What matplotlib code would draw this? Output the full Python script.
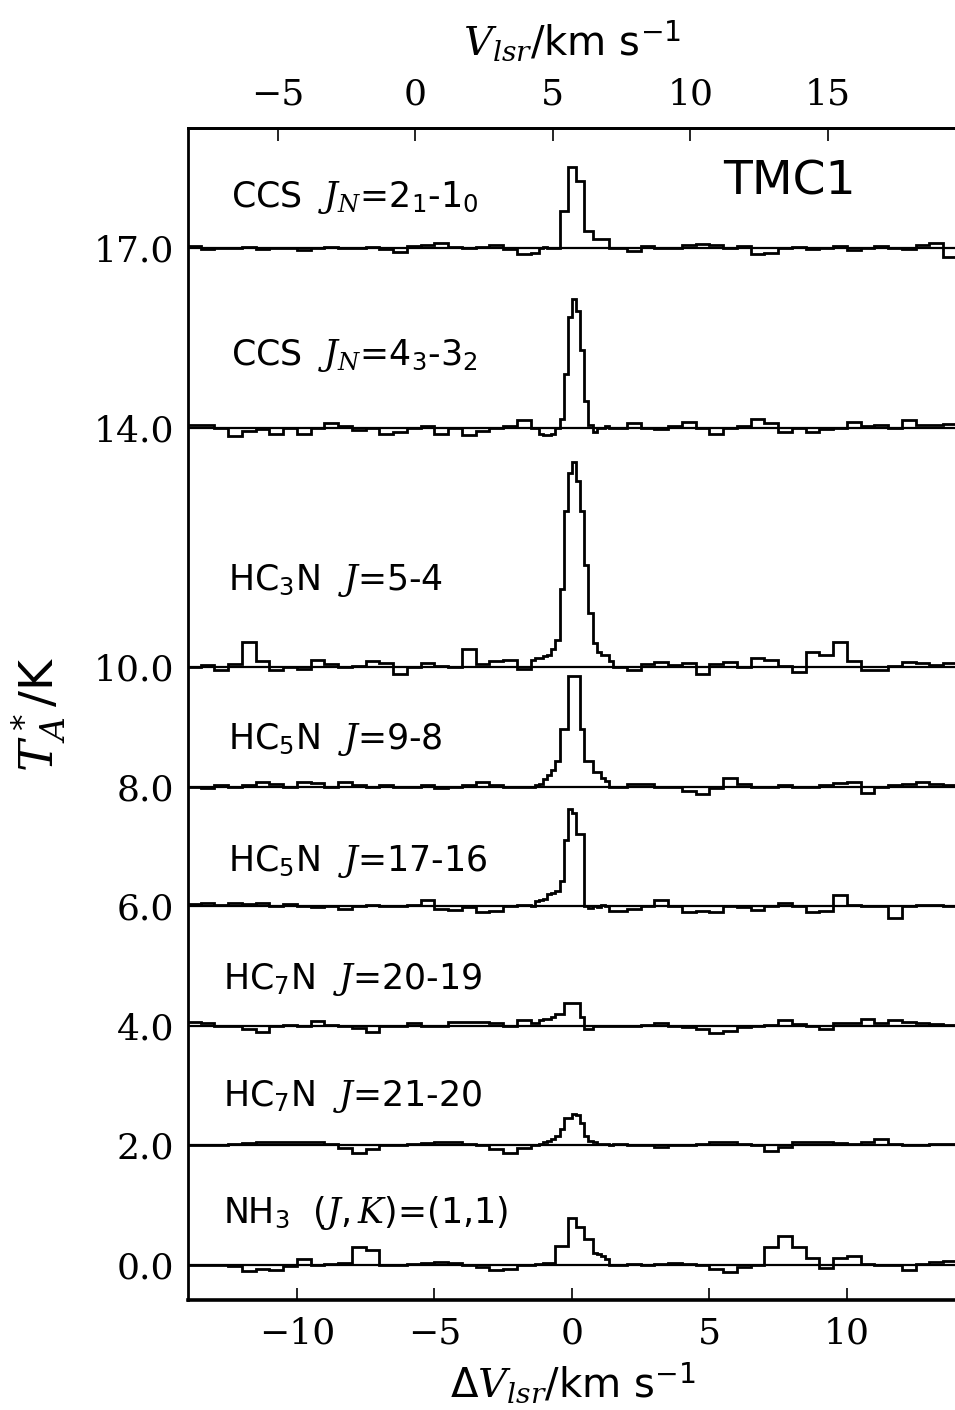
import matplotlib
matplotlib.use('Agg')
import matplotlib.pyplot as plt
from matplotlib.ticker import FormatStrFormatter
import numpy as np

plt.rcParams['font.family'] = ['DejaVu Sans']
plt.rcParams['mathtext.fontset'] = 'custom'
plt.rcParams['mathtext.rm'] = 'DejaVu Sans'
plt.rcParams['mathtext.it'] = 'DejaVu Serif:italic'

# channel left edges (km/s): coarse wings, fine grid around the line
edges_left = np.arange(-14.0, -1.5, 0.5)
edges_fine = np.arange(-1.5, 1.49, 0.15)
edges_right = np.arange(1.5, 13.99, 0.5)
V_END = 14.0
V_SYS = 5.7  # V_lsr of the cloud, top axis

offsets = [17, 14, 10, 8, 6, 4, 2, 0]
labels = [r'CCS  $J_N$=2$_1$-1$_0$', r'CCS  $J_N$=4$_3$-3$_2$', r'HC$_3$N  $J$=5-4',
          r'HC$_5$N  $J$=9-8', r'HC$_5$N  $J$=17-16', r'HC$_7$N  $J$=20-19',
          r'HC$_7$N  $J$=21-20', r'NH$_3$  ($J,K$)=(1,1)']
label_y = [17.84, 15.2, 11.45, 8.78, 6.74, 4.77, 2.81, 0.87]
label_x = [-12.4, -12.4, -12.5, -12.5, -12.5, -12.7, -12.7, -12.7]

# T_A* (K) per channel: left wing / line core / right wing
ccs21_l = [0.03, -0.02, 0.0, 0.01, 0.02, -0.01, 0.0, 0.01, -0.03, 0.0, 0.02, 0.01, 0.0,
           0.02, -0.02, -0.07, 0.03, 0.06, 0.08, 0.02, 0.0, 0.02, 0.05, -0.02, -0.09]
ccs21_c = [-0.08, -0.08, 0.0, 0.02, 0.0, 0.0, 0.0, 0.62, 0.62, 1.35,
           1.35, 1.12, 1.12, 0.28, 0.28, 0.16, 0.16, 0.16, 0.16, 0.0]
ccs21_r = [0.0, -0.05, 0.04, 0.0, 0.0, 0.06, 0.07, 0.05, 0.0, 0.04, -0.1, -0.08, 0.0,
           0.02, -0.02, 0.0, 0.03, -0.03, 0.0, 0.04, 0.0, -0.02, 0.06, 0.08, -0.15]

ccs43_l = [0.05, 0.04, 0.0, -0.14, -0.06, -0.02, -0.1, 0.0, -0.1, 0.0, 0.08, 0.02, -0.04,
           0.0, -0.1, -0.08, 0.0, 0.02, -0.1, 0.0, -0.12, -0.06, 0.0, 0.02, 0.12]
ccs43_c = [0.0, 0.0, -0.1, -0.12, -0.12, -0.1, 0.0, 0.15, 0.9, 1.85,
           2.15, 1.95, 1.3, 0.45, 0.05, -0.08, 0.0, 0.0, 0.02, 0.0]
ccs43_r = [0.0, 0.08, 0.0, -0.03, 0.02, 0.1, 0.0, -0.1, 0.0, 0.02, 0.15, 0.08, -0.08,
           0.0, -0.07, -0.03, 0.0, 0.1, 0.03, 0.04, 0.0, 0.12, 0.05, 0.04, 0.06]

hc3n_l = [0.0, 0.03, -0.06, 0.05, 0.42, 0.1, -0.05, 0.0, -0.04, 0.12, 0.05, 0.0, 0.02,
          0.1, 0.06, -0.12, 0.0, 0.07, 0.02, 0.0, 0.3, 0.05, 0.1, 0.12, -0.04]
hc3n_c = [0.12, 0.15, 0.15, 0.18, 0.2, 0.3, 0.45, 1.3, 2.6, 3.25,
          3.43, 3.1, 2.6, 1.7, 0.9, 0.4, 0.25, 0.2, 0.2, 0.1]
hc3n_r = [0.0, -0.06, 0.05, 0.08, 0.03, 0.06, -0.12, 0.05, 0.08, 0.0, 0.15, 0.12, 0.02,
          -0.08, 0.25, 0.2, 0.42, 0.1, -0.06, -0.05, 0.02, 0.08, 0.06, 0.03, 0.07]

hc5n98_l = [0.0, -0.02, 0.02, 0.0, 0.03, 0.08, 0.05, 0.0, 0.08, 0.06, 0.0, 0.07, 0.02,
            0.0, 0.03, -0.01, 0.0, 0.02, -0.02, 0.0, 0.02, 0.08, 0.02, 0.0, 0.0]
hc5n98_c = [0.0, 0.02, 0.05, 0.12, 0.2, 0.28, 0.42, 0.96, 0.96, 1.84,
            1.84, 1.84, 0.96, 0.42, 0.42, 0.25, 0.25, 0.14, 0.1, 0.0]
hc5n98_r = [0.0, 0.05, 0.04, 0.0, 0.0, -0.08, -0.12, -0.02, 0.15, 0.05, 0.0, 0.0, 0.02,
            0.0, 0.0, 0.02, 0.06, 0.07, -0.1, 0.0, 0.02, 0.05, 0.08, 0.04, 0.02]

hc5n1716_l = [0.03, 0.06, 0.02, 0.05, 0.03, 0.05, 0.0, 0.03, 0.0, -0.02, 0.0, -0.04, 0.0,
              0.02, 0.0, 0.0, 0.02, 0.1, -0.05, -0.06, -0.02, -0.1, -0.08, 0.0, 0.02]
hc5n1716_c = [0.0, 0.08, 0.1, 0.12, 0.2, 0.22, 0.25, 0.42, 1.1, 1.62,
              1.55, 1.2, 1.2, 0.0, -0.03, 0.0, -0.02, 0.02, 0.0, -0.08]
hc5n1716_r = [-0.08, -0.05, 0.0, 0.1, 0.0, -0.1, -0.08, -0.1, 0.0, -0.02, -0.07, 0.0, 0.06,
              0.0, -0.1, -0.08, 0.18, 0.02, 0.0, 0.0, -0.2, 0.0, 0.02, 0.02, 0.0]

hc7n2019_l = [0.06, 0.05, 0.0, 0.0, -0.05, -0.1, 0.0, 0.02, 0.0, 0.08, 0.02, 0.0, -0.03,
              -0.1, 0.0, 0.0, 0.05, 0.0, 0.0, 0.07, 0.07, 0.07, 0.05, 0.0, 0.1]
hc7n2019_c = [0.05, 0.05, 0.1, 0.12, 0.12, 0.15, 0.2, 0.2, 0.38, 0.38,
              0.38, 0.38, 0.15, -0.05, -0.05, 0.0, 0.0, 0.0, 0.0, 0.0]
hc7n2019_r = [0.0, 0.0, 0.02, 0.04, 0.0, -0.02, -0.06, -0.12, -0.08, -0.02, 0.0, 0.02, 0.1,
              0.03, 0.0, -0.06, 0.05, 0.05, 0.12, 0.05, 0.1, 0.06, 0.05, 0.03, 0.02]

hc7n2120_l = [0.0, 0.0, 0.0, 0.02, 0.04, 0.05, 0.05, 0.06, 0.05, 0.05, 0.02, -0.05, -0.12,
              -0.06, 0.0, 0.0, 0.02, 0.04, 0.06, 0.05, 0.02, 0.0, -0.06, -0.12, -0.05]
hc7n2120_c = [0.0, 0.0, 0.02, 0.05, 0.08, 0.1, 0.15, 0.28, 0.45, 0.45,
              0.53, 0.5, 0.38, 0.15, 0.08, 0.05, 0.03, 0.02, 0.02, 0.0]
hc7n2120_r = [0.02, 0.0, 0.0, -0.02, 0.0, 0.0, 0.02, 0.05, 0.05, 0.03, 0.0, -0.1, -0.02,
              0.05, 0.06, 0.05, 0.04, 0.02, 0.05, 0.1, 0.02, 0.0, 0.0, 0.02, 0.02]

nh3_l = [0.0, 0.0, 0.0, -0.02, -0.1, -0.06, -0.08, -0.02, 0.1, 0.0, 0.02, 0.03, 0.3,
         0.25, 0.0, 0.0, 0.02, 0.03, 0.05, 0.04, 0.0, -0.04, -0.08, -0.06, 0.0]
nh3_c = [0.0, 0.02, 0.02, 0.03, 0.04, 0.04, 0.32, 0.32, 0.32, 0.78,
         0.78, 0.64, 0.64, 0.44, 0.44, 0.2, 0.18, 0.15, 0.1, 0.0]
nh3_r = [0.0, 0.02, 0.0, 0.02, 0.03, 0.02, 0.0, -0.06, -0.12, -0.04, 0.0, 0.3, 0.48,
         0.3, 0.12, -0.05, 0.12, 0.15, 0.02, 0.0, 0.0, -0.08, 0.02, 0.05, 0.06]

spectra = [(ccs21_l, ccs21_c, ccs21_r), (ccs43_l, ccs43_c, ccs43_r),
           (hc3n_l, hc3n_c, hc3n_r), (hc5n98_l, hc5n98_c, hc5n98_r),
           (hc5n1716_l, hc5n1716_c, hc5n1716_r), (hc7n2019_l, hc7n2019_c, hc7n2019_r),
           (hc7n2120_l, hc7n2120_c, hc7n2120_r), (nh3_l, nh3_c, nh3_r)]

fig = plt.figure(figsize=(9.55, 14.10), dpi=100)
ax = fig.add_axes([188/955, 110/1410, 769/955, 1172/1410])

edges = np.concatenate([edges_left, edges_fine, edges_right, [V_END]])
for (l, c, r), off, lab, lx, ly in zip(spectra, offsets, labels, label_x, label_y):
    vals = np.concatenate([l, c, r]) + off
    ax.axhline(off, color='black', lw=1.6)
    ax.stairs(vals, edges, baseline=None, color='black', lw=2.0)
    ax.text(lx, ly, lab, fontsize=25, va='center', ha='left')

ax.text(5.5, 18.1, 'TMC1', fontsize=34, va='center', ha='left')

ax.set_xlim(-13.96, 14.0)
ax.set_ylim(-0.585, 19.01)

ax.set_yticks(offsets)
ax.yaxis.set_major_formatter(FormatStrFormatter('%.1f'))
ax.tick_params(axis='y', length=0, pad=10, labelsize=26, labelfontfamily='DejaVu Serif')
ax.set_xticks([-10, -5, 0, 5, 10])
ax.tick_params(axis='x', direction='in', length=9, width=1.2, pad=12, labelsize=26,
               labelfontfamily='DejaVu Serif')

sec = ax.secondary_xaxis('top', functions=(lambda v: v + V_SYS, lambda v: v - V_SYS))
sec.set_xticks([-5, 0, 5, 10, 15])
sec.tick_params(direction='in', length=9, width=1.2, pad=12, labelsize=26,
                labelfontfamily='DejaVu Serif')
sec.spines['top'].set_linewidth(2)
sec.set_xlabel(r'$V_{lsr}$/km s$^{-1}$', fontsize=29, labelpad=16)

for s in ['left', 'bottom', 'top']:
    ax.spines[s].set_linewidth(2)
ax.spines['bottom'].set_linewidth(2.6)

ax.set_xlabel(r'$\Delta V_{lsr}$/km s$^{-1}$', fontsize=29, labelpad=8)
ax.set_ylabel(r'$T^*_A$/K', fontsize=34, labelpad=18)

fig.savefig('out.png', dpi=100)
